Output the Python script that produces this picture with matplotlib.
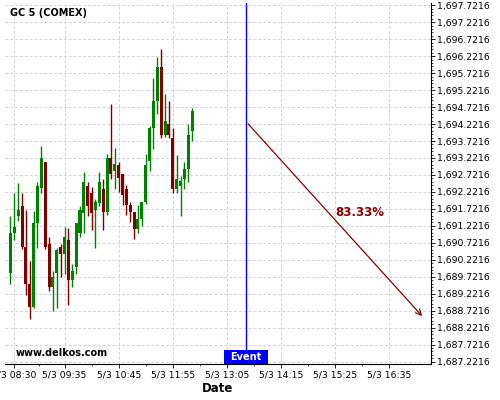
import matplotlib
matplotlib.use("Agg")
import matplotlib.pyplot as plt
import matplotlib.dates as mdates
import matplotlib.transforms as mtransforms
from matplotlib.patches import Rectangle
import pandas as pd
from matplotlib.ticker import FixedLocator, FuncFormatter

symbol = "GC 5 (COMEX)"
day = "2024-05-03"
times = pd.date_range(f"{day} 08:25", periods=48, freq="5min")

opens = [1689.82, 1691.02, 1691.52, 1691.81, 1690.60, 1689.51, 1688.82, 1691.32,
         1692.33, 1693.10, 1690.68, 1689.41, 1689.82, 1690.60, 1690.40, 1690.81,
         1689.62, 1690.02, 1691.01, 1691.61, 1692.40, 1692.19, 1691.69, 1691.91,
         1692.32, 1691.63, 1693.23, 1692.84, 1693.03, 1692.74, 1692.32, 1691.83,
         1691.63, 1691.14, 1691.43, 1691.93, 1693.12, 1694.10, 1694.91, 1695.91,
         1693.91, 1694.22, 1693.81, 1692.32, 1692.41, 1692.61, 1692.91, 1694.02]
highs = [1691.50, 1692.19, 1692.49, 1692.19, 1691.69, 1690.19, 1691.67, 1692.51,
         1693.59, 1693.10, 1690.88, 1689.89, 1690.58, 1690.68, 1691.19, 1691.17,
         1690.09, 1691.31, 1691.81, 1692.81, 1692.51, 1692.37, 1692.00, 1692.81,
         1692.61, 1693.33, 1694.82, 1693.52, 1693.10, 1692.74, 1692.42, 1691.93,
         1691.63, 1691.83, 1691.93, 1693.33, 1694.15, 1695.59, 1696.21, 1696.43,
         1695.10, 1694.91, 1694.10, 1693.32, 1692.70, 1693.10, 1694.22, 1694.71]
lows = [1689.50, 1690.80, 1691.37, 1690.53, 1689.19, 1688.47, 1688.80, 1690.58,
        1692.18, 1690.55, 1689.31, 1688.72, 1688.80, 1689.70, 1689.80, 1688.90,
        1689.41, 1689.80, 1690.88, 1691.01, 1691.51, 1691.09, 1690.58, 1691.81,
        1691.11, 1691.53, 1692.61, 1692.32, 1692.22, 1691.83, 1691.53, 1691.34,
        1690.82, 1691.01, 1691.21, 1691.88, 1692.83, 1693.48, 1694.51, 1693.81,
        1693.85, 1693.81, 1692.18, 1692.18, 1691.50, 1692.32, 1692.51, 1693.71]
closes = [1691.01, 1691.19, 1691.69, 1690.61, 1689.52, 1688.82, 1691.31, 1692.40,
          1693.23, 1690.61, 1689.41, 1689.70, 1690.50, 1690.40, 1690.89, 1689.62,
          1689.90, 1691.31, 1691.69, 1692.51, 1691.81, 1691.61, 1691.91, 1692.51,
          1691.63, 1693.23, 1692.74, 1693.03, 1692.63, 1692.12, 1691.83, 1691.63,
          1691.14, 1691.43, 1691.93, 1693.03, 1694.10, 1694.91, 1695.91, 1693.91,
          1694.32, 1693.91, 1692.32, 1692.61, 1692.53, 1692.91, 1693.91, 1694.61]

xtick_times = ["08:30", "09:35", "10:45", "11:55", "13:05", "14:15", "15:25", "16:35"]
xtick_labels = ["5/3 " + t for t in xtick_times]
event_time = "13:30"
arrow_start = ("13:30", 1694.29)
arrow_end = ("17:20", 1688.50)
prob_pos = ("15:57", 1691.61)
prob_text = "83.33%"


def t(hm):
    return mdates.date2num(pd.Timestamp(f"{day} {hm}"))


up_c = "#008000"
down_c = "#800000"

fig = plt.figure(figsize=(5, 4), dpi=100)
ax = fig.add_axes([0.01, 0.09, 0.852, 0.9025])

x = mdates.date2num(times)
bw = 3.9 / 1440
for xi, o, h, l, c in zip(x, opens, highs, lows, closes):
    col = up_c if c >= o else down_c
    ax.vlines(xi, l, h, color=col, linewidth=1, zorder=3)
    ax.bar(xi, abs(c - o) or 0.02, bottom=min(o, c), width=bw, color=col,
           linewidth=0, zorder=3)

# event line and arrow
ax.axvline(t(event_time), color="#0000ff", linewidth=1, zorder=4)
ax.annotate("", xy=(t(arrow_end[0]), arrow_end[1]),
            xytext=(t(arrow_start[0]), arrow_start[1]),
            arrowprops=dict(arrowstyle="->", color="#8b0000", lw=0.9,
                            mutation_scale=10), zorder=4)
ax.text(t(prob_pos[0]), prob_pos[1], prob_text, color="#8b0000",
        fontsize=8.5, fontweight="bold", ha="center", va="center")

# event tag at the bottom
blend = mtransforms.blended_transform_factory(ax.transData, ax.transAxes)
tag_w = 57 / 1440
ax.add_patch(Rectangle((t(event_time) - tag_w / 2, 0), tag_w, 0.04,
                       transform=blend, facecolor="#0000ff", edgecolor="none",
                       zorder=5, clip_on=False))
ax.text(t(event_time), 0.02, "Event", transform=blend, color="white",
        fontsize=7, fontweight="bold", ha="center", va="center", zorder=6)

ax.text(0.012, 0.985, symbol, transform=ax.transAxes, fontsize=7,
        fontweight="bold", ha="left", va="top")
ax.text(0.024, 0.03, "www.delkos.com", transform=ax.transAxes, fontsize=7,
        fontweight="bold", ha="left", va="center")

# axes
ax.set_xlim(t("08:18"), t("17:29"))
ax.set_ylim(1687.15, 1697.79)

yt = [1687.2216 + 0.5 * k for k in range(22)]
ax.yaxis.set_major_locator(FixedLocator(yt))
ax.yaxis.set_minor_locator(FixedLocator([1687.2216 + 0.1 * k for k in range(106)]))
ax.yaxis.set_major_formatter(FuncFormatter(lambda v, p: f"{v:,.4f}"))
ax.yaxis.tick_right()

xt = [t(s) for s in xtick_times]
ax.set_xticks(xt)
ax.set_xticklabels(xtick_labels)
ax.set_xticks([(a + b) / 2 for a, b in zip(xt[:-1], xt[1:])], minor=True)
ax.set_xlabel("Date", fontsize=8.5, fontweight="bold", labelpad=2)

ax.tick_params(axis="both", labelsize=6.7, length=3, width=0.6, pad=1.5)
ax.tick_params(axis="both", which="minor", length=1.5, width=0.5)

ax.grid(True, which="major", color="#d2d2d2", linestyle=(0, (3, 2)), linewidth=0.7)
ax.set_axisbelow(True)
for side in ("top", "left"):
    ax.spines[side].set_visible(False)
for side in ("right", "bottom"):
    ax.spines[side].set_linewidth(0.8)

fig.savefig("out.png", dpi=100)
